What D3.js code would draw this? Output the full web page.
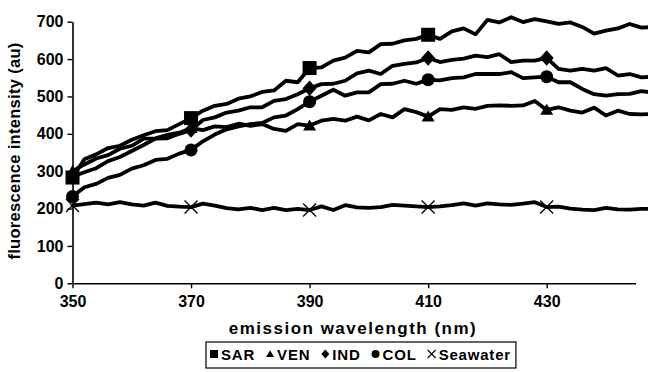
<!DOCTYPE html>
<html><head><meta charset="utf-8">
<script src="https://cdn.jsdelivr.net/npm/d3@7"></script>
<style>
html,body{margin:0;padding:0;background:#fff;}
svg{display:block;}
text{font-family:"Liberation Sans",Arial,sans-serif;font-weight:bold;fill:#000;}
</style></head><body>
<svg id="chart" width="648" height="372"></svg>
<script>
const wavelengths = [350,352,354,356,358,360,362,364,366,368,370,372,374,376,378,380,382,384,386,388,390,392,394,396,398,400,402,404,406,408,410,412,414,416,418,420,422,424,426,428,430,432,434,436,438,440,442,444,446,448];
const sarValues = [283,332,345,362,368,384,396,407,410,426,442,462,475,480,494,500,512,516,542,538,576,578,596,604,622,618,640,641,650,654,665,654,674,682,666,705,698,712,699,707,701,694,698,686,668,676,682,694,684,686];
const venValues = [300,318,334,343,360,368,387,388,397,403,415,410,420,418,427,421,426,413,408,426,422,435,440,435,446,436,453,444,466,458,446,466,464,471,467,475,476,475,476,488,464,471,462,457,470,449,462,453,452,453];
const indValues = [285,297,308,327,338,354,370,387,388,400,410,437,444,457,462,471,471,488,493,506,522,533,534,542,562,569,560,582,587,591,603,592,598,601,609,605,613,592,596,596,603,574,569,574,569,576,556,560,551,553];
const colValues = [232,257,266,282,290,307,316,330,333,347,357,380,398,412,420,426,429,444,449,466,486,502,518,502,511,511,533,534,542,534,545,543,549,551,560,560,560,565,549,551,553,538,538,520,506,502,506,507,514,510];
const seaValues = [208,212,216,211,217,211,208,216,207,205,204,213,208,201,198,202,196,202,196,199,196,206,196,209,203,202,204,210,208,206,204,206,209,214,208,214,211,210,213,217,204,205,200,197,196,202,198,197,199,199];
const seriesNames = ["SAR","VEN","IND","COL","Seawater"];
const markerTypes = ["square","triangle","diamond","circle","times"];
const markerWavelengths = [[350,370,390,410],[350,370,390,410,430],[350,370,390,410,430],[350,370,390,410,430],[350,370,390,410,430]];
const xTicks = [350,370,390,410,430];
const yTicks = [0,100,200,300,400,500,600,700];
const xTitle = "emission wavelength (nm)";
const yTitle = "fluorescence  intensity (au)";

const allValues = [sarValues, venValues, indValues, colValues, seaValues];
const svg = d3.select("#chart");
const x = d3.scaleLinear().domain([350,445]).range([72.5,635.6]);
const y = d3.scaleLinear().domain([0,700]).range([283.3,21.7]);

// axes
const gy = svg.append("g").attr("transform","translate(72.5,0)")
  .call(d3.axisLeft(y).tickValues(yTicks).tickSize(5).tickSizeOuter(0).tickPadding(4));
const gx = svg.append("g").attr("transform","translate(0,283.3)")
  .call(d3.axisBottom(x).tickValues(xTicks).tickFormat(d3.format("d")).tickSize(5).tickSizeOuter(0).tickPadding(7));
[gx,gy].forEach(g=>{
  g.select(".domain").attr("stroke","#000").attr("stroke-width",1.6);
  g.selectAll(".tick line").attr("stroke","#000").attr("stroke-width",1.4);
  g.selectAll(".tick text").attr("font-size",16).attr("font-family","Liberation Sans, Arial, sans-serif").attr("font-weight","bold").attr("fill","#000");
});

// titles
svg.append("text").attr("x",353).attr("y",334).attr("text-anchor","middle").attr("font-size",17)
  .attr("letter-spacing","1.5px").text(xTitle);
svg.append("text").attr("transform","translate(14,151) rotate(-90)").attr("text-anchor","middle").attr("dy","0.35em")
  .attr("font-size",16.5).attr("letter-spacing","0.3px").text(yTitle);

// lines
const line = d3.line().x(d=>x(d.w)).y(d=>y(d.v));
const plot = svg.append("g");
allValues.forEach((vals,i)=>{
  const pts = wavelengths.map((w,j)=>({w:w,v:vals[j]}));
  plot.append("path").datum(pts).attr("d",line)
    .attr("fill","none").attr("stroke","#000").attr("stroke-width",3.8)
    .attr("stroke-linejoin","round").attr("stroke-linecap","round");
});

function markerPath(type, s){
  const h=s/2;
  switch(type){
    case "square": return `M${-h},${-h}H${h}V${h}H${-h}Z`;
    case "triangle": return `M0,${-h*0.95}L${h},${h*0.75}L${-h},${h*0.75}Z`;
    case "diamond": return `M0,${-h*1.1}L${h},0L0,${h*1.1}L${-h},0Z`;
    case "circle": return `M${h},0A${h},${h} 0 1,1 ${-h},0A${h},${h} 0 1,1 ${h},0Z`;
    case "times": return `M${-h},${-h}L${h},${h}M${h},${-h}L${-h},${h}`;
  }
}
const mSize = {square:14, triangle:13, diamond:14, circle:13, times:13};
allValues.forEach((vals,i)=>{
  const t = markerTypes[i];
  markerWavelengths[i].forEach(w=>{
    const j = wavelengths.indexOf(w);
    const p = plot.append("path").attr("d",markerPath(t,mSize[t]))
      .attr("transform",`translate(${x(w)},${y(vals[j])})`);
    if(t==="times") p.attr("fill","none").attr("stroke","#000").attr("stroke-width",1.3);
    else p.attr("fill","#000");
  });
});

// legend
const lg = svg.append("g");
const box = lg.append("rect").attr("fill","#fff").attr("stroke","#000").attr("stroke-width",1.2);
const items = [];
seriesNames.forEach((n,i)=>{
  const t = markerTypes[i];
  const sym = lg.append("path").attr("d",markerPath(t,8));
  if(t==="times") sym.attr("fill","none").attr("stroke","#000").attr("stroke-width",1.1);
  else sym.attr("fill","#000");
  const tx = lg.append("text").attr("font-size",15).attr("letter-spacing","0.8px").attr("y",360).text(n);
  items.push({sym,tx});
});
let pos = 210;
items.forEach((it,i)=>{
  it.sym.attr("transform",`translate(${pos+4},354)`);
  pos += 11;
  it.tx.attr("x",pos);
  pos += it.tx.node().getComputedTextLength() + 11;
});
box.attr("x",206).attr("y",342).attr("width",pos-11+5-206).attr("height",26);
</script>
</body></html>
